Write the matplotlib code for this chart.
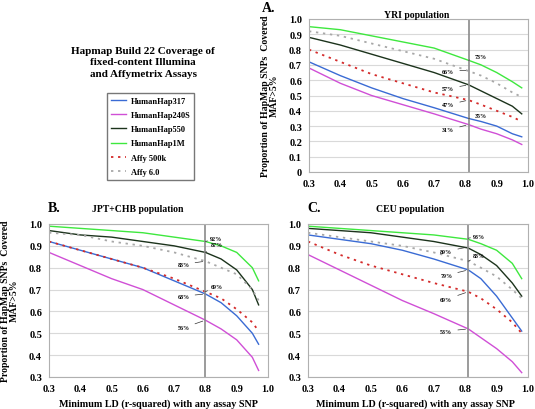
import matplotlib
matplotlib.use('Agg')
import matplotlib.pyplot as plt

plt.rcParams['font.family'] = 'Liberation Serif'
plt.rcParams['font.weight'] = 'bold'

# x positions (minimum r-squared)
x_yri = [0.3, 0.4, 0.5, 0.6, 0.7, 0.81, 0.85, 0.9, 0.95, 0.98]
x_jpt = [0.3, 0.4, 0.5, 0.6, 0.7, 0.8, 0.85, 0.9, 0.95, 0.97]
x_ceu = [0.3, 0.4, 0.5, 0.6, 0.7, 0.81, 0.85, 0.9, 0.95, 0.98]

nombres = ['HumanHap317', 'HumanHap240S', 'HumanHap550', 'HumanHap1M', 'Affy 500k', 'Affy 6.0']
colores = ['#3a6bd4', '#d04fd6', '#1c331c', '#3ee83e', '#d42a2a', '#a8a8a8']
estilos = ['-', '-', '-', '-', ':', ':']

# YRI
yri_317 = [0.72, 0.63, 0.55, 0.48, 0.42, 0.35, 0.33, 0.30, 0.25, 0.23]
yri_240 = [0.68, 0.58, 0.50, 0.44, 0.38, 0.31, 0.28, 0.25, 0.21, 0.18]
yri_550 = [0.88, 0.83, 0.77, 0.71, 0.65, 0.57, 0.53, 0.48, 0.43, 0.38]
yri_1m = [0.95, 0.93, 0.89, 0.85, 0.81, 0.73, 0.70, 0.65, 0.59, 0.55]
yri_500k = [0.80, 0.72, 0.64, 0.58, 0.52, 0.47, 0.44, 0.40, 0.36, 0.33]
yri_6 = [0.92, 0.89, 0.84, 0.79, 0.74, 0.66, 0.63, 0.58, 0.52, 0.49]

# JPT+CHB
jpt_317 = [0.92, 0.88, 0.84, 0.80, 0.74, 0.68, 0.64, 0.58, 0.50, 0.45]
jpt_240 = [0.87, 0.81, 0.75, 0.70, 0.63, 0.56, 0.52, 0.47, 0.39, 0.33]
jpt_550 = [0.97, 0.95, 0.94, 0.92, 0.90, 0.87, 0.84, 0.79, 0.70, 0.63]
jpt_1m = [0.99, 0.98, 0.97, 0.96, 0.94, 0.92, 0.90, 0.87, 0.80, 0.74]
jpt_500k = [0.92, 0.88, 0.84, 0.80, 0.75, 0.69, 0.66, 0.61, 0.55, 0.51]
jpt_6 = [0.96, 0.95, 0.92, 0.90, 0.87, 0.83, 0.80, 0.77, 0.70, 0.65]

# CEU
ceu_317 = [0.95, 0.93, 0.91, 0.88, 0.84, 0.79, 0.75, 0.67, 0.57, 0.51]
ceu_240 = [0.86, 0.79, 0.72, 0.65, 0.59, 0.52, 0.48, 0.43, 0.37, 0.32]
ceu_550 = [0.98, 0.97, 0.96, 0.94, 0.92, 0.89, 0.86, 0.81, 0.73, 0.67]
ceu_1m = [0.99, 0.98, 0.97, 0.96, 0.95, 0.93, 0.91, 0.88, 0.82, 0.75]
ceu_500k = [0.92, 0.86, 0.81, 0.77, 0.73, 0.69, 0.66, 0.61, 0.55, 0.50]
ceu_6 = [0.96, 0.94, 0.92, 0.90, 0.87, 0.83, 0.80, 0.76, 0.70, 0.66]

# etiquetas de porcentaje: (texto, punto en la curva, posicion del texto)
etq_yri = [('73%', (0.81, 0.73), (0.85, 0.755)), ('66%', (0.81, 0.665), (0.745, 0.66)),
           ('57%', (0.81, 0.57), (0.745, 0.545)), ('47%', (0.81, 0.47), (0.745, 0.44)),
           ('35%', (0.81, 0.35), (0.85, 0.37)), ('31%', (0.81, 0.31), (0.745, 0.275))]
etq_jpt = [('92%', (0.8, 0.92), (0.835, 0.935)), ('87%', (0.8, 0.87), (0.835, 0.905)),
           ('83%', (0.8, 0.83), (0.73, 0.815)), ('69%', (0.8, 0.69), (0.835, 0.715)),
           ('68%', (0.8, 0.68), (0.73, 0.67)), ('56%', (0.8, 0.56), (0.73, 0.525))]
etq_ceu = [('93%', (0.81, 0.935), (0.845, 0.945)), ('89%', (0.81, 0.895), (0.74, 0.875)),
           ('83%', (0.81, 0.83), (0.845, 0.855)), ('79%', (0.81, 0.79), (0.74, 0.765)),
           ('69%', (0.81, 0.69), (0.74, 0.655)), ('53%', (0.81, 0.52), (0.74, 0.51))]

W, H = 535, 410
fig = plt.figure(figsize=(W / 100, H / 100), dpi=100)


def ejes(x0, y0, x1, y1):
    return fig.add_axes([x0 / W, 1 - y1 / H, (x1 - x0) / W, (y1 - y0) / H])


def texto(x, y, s, **kw):
    return fig.text(x / W, 1 - y / H, s, **kw)


def panel(ax, xs, series, ymin, yticks, ytlabels, vline, etiquetas):
    for ys, nom, col, est in zip(series, nombres, colores, estilos):
        if est == '-':
            ax.plot(xs, ys, '-', color=col, linewidth=1.0, label=nom)
        else:
            ax.plot(xs, ys, '--', color=col, linewidth=1.3, dashes=(1.3, 2.6), label=nom)
    ax.axvline(vline, color='#8a8a8a', linewidth=1.2)
    ax.set_xlim(0.3, 1.0)
    ax.set_ylim(ymin, 1.0)
    ax.set_xticks([0.3, 0.4, 0.5, 0.6, 0.7, 0.8, 0.9, 1.0])
    ax.set_xticklabels(['0.3', '0.4', '0.5', '0.6', '0.7', '0.8', '0.9', '1.0'])
    ax.set_yticks(yticks)
    ax.set_yticklabels(ytlabels)
    ax.tick_params(length=0, labelsize=7.5, pad=5)
    ax.grid(axis='y', color='#d9d9d9', linewidth=0.8)
    ax.set_axisbelow(True)
    for s in ax.spines.values():
        s.set_color('#b0b0b0')
        s.set_linewidth(0.8)
    for txt, p, t in etiquetas:
        ax.annotate(txt, xy=p, xytext=t, fontsize=4.3, ha='center', va='center',
                    arrowprops=dict(arrowstyle='-', color='#333333', linewidth=0.5))


yt_a = [0, 0.1, 0.2, 0.3, 0.4, 0.5, 0.6, 0.7, 0.8, 0.9, 1.0]
ytl_a = ['0', '0.1', '0.2', '0.3', '0.4', '0.5', '0.6', '0.7', '0.8', '0.9', '1.0']
yt_b = [0.3, 0.4, 0.5, 0.6, 0.7, 0.8, 0.9, 1.0]
ytl_b = ['0.3', '0.4', '0.5', '0.6', '0.7', '0.8', '0.9', '1.0']

ax_a = ejes(309, 20, 528, 173)
panel(ax_a, x_yri, [yri_317, yri_240, yri_550, yri_1m, yri_500k, yri_6], 0, yt_a, ytl_a,
      0.81, etq_yri)

ax_b = ejes(49, 225, 268, 378)
panel(ax_b, x_jpt, [jpt_317, jpt_240, jpt_550, jpt_1m, jpt_500k, jpt_6], 0.3, yt_b, ytl_b,
      0.8, etq_jpt)

ax_c = ejes(308, 225, 528, 378)
panel(ax_c, x_ceu, [ceu_317, ceu_240, ceu_550, ceu_1m, ceu_500k, ceu_6], 0.3, yt_b, ytl_b,
      0.81, etq_ceu)

# letras y titulos de los paneles
texto(262, 9, 'A.', fontsize=10, fontweight='bold', ha='left', va='center')
texto(48, 209, 'B.', fontsize=10, fontweight='bold', ha='left', va='center')
texto(307, 209, 'C.', fontsize=10, fontweight='bold', ha='left', va='center')
texto(417, 15, 'YRI population', fontsize=7, fontweight='bold', ha='center', va='center')
texto(138, 210, 'JPT+CHB population', fontsize=7, fontweight='bold', ha='center', va='center')
texto(410, 210, 'CEU population', fontsize=7, fontweight='bold', ha='center', va='center')

ylab = 'Proportion of HapMap SNPs  Covered\nMAF>5%'
texto(270, 96, ylab, fontsize=7, fontweight='bold', rotation=90, ha='center', va='center',
      multialignment='center', linespacing=0.95)
texto(10, 301, ylab, fontsize=7, fontweight='bold', rotation=90, ha='center', va='center',
      multialignment='center', linespacing=0.95)

xlab = 'Minimum LD (r-squared) with any assay SNP'
texto(158, 404, xlab, fontsize=7.3, fontweight='bold', ha='center', va='center')
texto(415, 404, xlab, fontsize=7.3, fontweight='bold', ha='center', va='center')

texto(143, 47, 'Hapmap Build 22 Coverage of\nfixed-content Illumina\nand Affymetrix Assays',
      ha='center', va='top', fontsize=8, fontweight='bold', linespacing=1.35)

handles, labels = ax_a.get_legend_handles_labels()
fig.legend(handles, labels, loc='upper left', bbox_to_anchor=(107 / W, 1 - 94 / H),
           frameon=True, fancybox=False, edgecolor='#555555',
           handlelength=1.8, borderpad=0.45, labelspacing=0.75, handletextpad=0.6,
           borderaxespad=0, prop={'weight': 'bold', 'size': 6})

fig.savefig('out.png', dpi=100)
